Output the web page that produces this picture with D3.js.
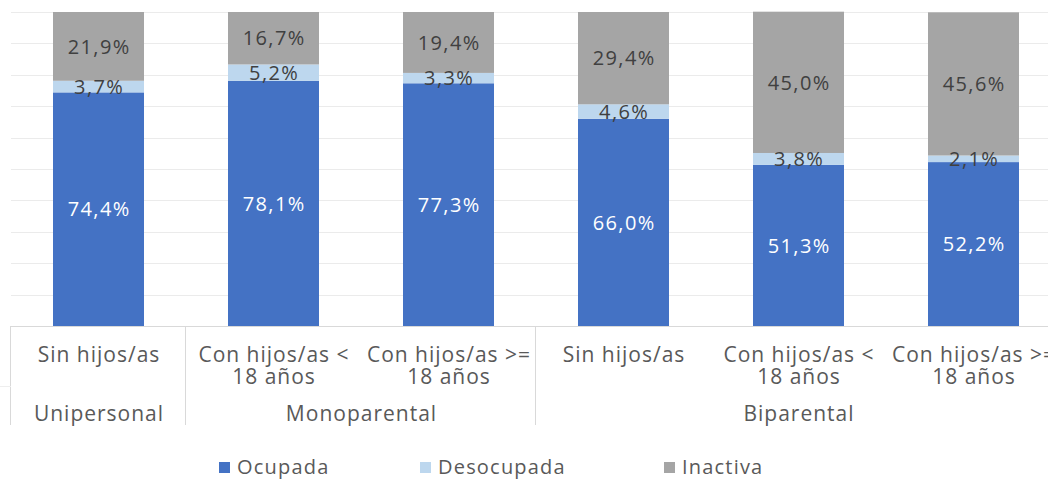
<!DOCTYPE html>
<html>
<head>
<meta charset="utf-8">
<script src="https://cdn.jsdelivr.net/npm/d3@7"></script>
<style>
  body { margin: 0; background: #fff; }
  svg { display: block; font-family: 'Open Sans', sans-serif; }
</style>
</head>
<body>
<script>
// Data
const categories = ['Sin hijos/as', 'Con hijos/as < 18 años', 'Con hijos/as >= 18 años',
  'Sin hijos/as', 'Con hijos/as < 18 años', 'Con hijos/as >= 18 años']
const categoryLines = [['Sin hijos/as'], ['Con hijos/as <', '18 años'], ['Con hijos/as >=', '18 años'],
  ['Sin hijos/as'], ['Con hijos/as <', '18 años'], ['Con hijos/as >=', '18 años']]
const groups = ['Unipersonal', 'Monoparental', 'Biparental']
const groupSizes = [1, 2, 3]
const seriesNames = ['Ocupada', 'Desocupada', 'Inactiva']
const ocupada = [74.4, 78.1, 77.3, 66.0, 51.3, 52.2]
const desocupada = [3.7, 5.2, 3.3, 4.6, 3.8, 2.1]
const inactiva = [21.9, 16.7, 19.4, 29.4, 45.0, 45.6]
const yTicks = [0, 10, 20, 30, 40, 50, 60, 70, 80, 90, 100]

const width = 1048
const height = 481
const colors = ['#4472C4', '#BDD7EE', '#A5A5A5']
const labelColors = ['#ffffff', '#404040', '#404040']
const textColor = '#595959'

// Plot area (the original is cropped on the right)
const plotLeft = 11
const band = 175
const plotTop = 12
const plotBottom = 326

const rows = categories.map((c, i) => ({
  idx: i,
  Ocupada: ocupada[i],
  Desocupada: desocupada[i],
  Inactiva: inactiva[i],
}))

const x = d3.scaleBand()
  .domain(d3.range(categories.length))
  .range([plotLeft, plotLeft + band * categories.length])
  .paddingInner(0.48)
  .paddingOuter(0.24)

const y = d3.scaleLinear().domain([0, 100]).range([plotBottom, plotTop])

const svg = d3.select('body').append('svg')
  .attr('width', width)
  .attr('height', height)

// gridlines
svg.append('g')
  .selectAll('line')
  .data(yTicks.slice(1))
  .enter()
  .append('line')
  .attr('x1', plotLeft)
  .attr('x2', width)
  .attr('y1', (d) => Math.round(y(d)) + 0.5)
  .attr('y2', (d) => Math.round(y(d)) + 0.5)
  .attr('stroke', '#ebebeb')
  .attr('stroke-width', 1)

const stacked = d3.stack().keys(seriesNames)(rows)

const layers = svg.append('g')
  .selectAll('g')
  .data(stacked)
  .enter()
  .append('g')
  .attr('fill', (d, i) => colors[i])

layers.selectAll('rect')
  .data((d) => d)
  .enter()
  .append('rect')
  .attr('x', (d) => x(d.data.idx))
  .attr('width', x.bandwidth())
  .attr('y', (d) => y(d[1]))
  .attr('height', (d) => y(d[0]) - y(d[1]))

// data labels
stacked.forEach((layer, si) => {
  svg.append('g')
    .selectAll('text')
    .data(layer)
    .enter()
    .append('text')
    .attr('x', (d) => x(d.data.idx) + x.bandwidth() / 2 + 0.7)
    .attr('y', (d) => (y(d[0]) + y(d[1])) / 2)
    .attr('dy', '0.36em')
    .attr('text-anchor', 'middle')
    .attr('font-size', 20)
    .attr('letter-spacing', 1.4)
    .attr('fill', labelColors[si])
    .text((d) => d.data[layer.key].toFixed(1).replace('.', ',') + '%')
})

// category axis
const axis = svg.append('g').attr('stroke', '#d9d9d9').attr('stroke-width', 1)
axis.append('line')
  .attr('x1', plotLeft).attr('x2', width)
  .attr('y1', plotBottom + 0.5).attr('y2', plotBottom + 0.5)

// group separators
let cum = 0
const seps = [0]
groupSizes.forEach((n) => { cum += n; seps.push(cum) })
axis.selectAll('.sep')
  .data(seps)
  .enter()
  .append('line')
  .attr('x1', (d) => Math.round(plotLeft + d * band) - 0.5)
  .attr('x2', (d) => Math.round(plotLeft + d * band) - 0.5)
  .attr('y1', plotBottom)
  .attr('y2', 425)
axis.append('line')
  .attr('stroke', '#eeeeee')
  .attr('x1', 0).attr('x2', plotLeft)
  .attr('y1', 386.5).attr('y2', 386.5)

// category labels, one text per line
const catLines = []
categoryLines.forEach((lines, i) => {
  lines.forEach((t, j) => catLines.push({ i, j, t }))
})
svg.append('g')
  .attr('font-size', 21)
  .attr('letter-spacing', 1)
  .attr('fill', textColor)
  .attr('text-anchor', 'middle')
  .selectAll('text')
  .data(catLines)
  .enter()
  .append('text')
  .attr('x', (d) => x(d.i) + x.bandwidth() / 2 + 0.5)
  .attr('y', (d) => 362 + d.j * 22)
  .text((d) => d.t)

let start = 0
const groupPos = groupSizes.map((n) => {
  const c = plotLeft + (start + n / 2) * band
  start += n
  return c
})
svg.append('g')
  .attr('font-size', 21)
  .attr('letter-spacing', 1)
  .attr('fill', textColor)
  .attr('text-anchor', 'middle')
  .selectAll('text')
  .data(groups)
  .enter()
  .append('text')
  .attr('x', (d, i) => groupPos[i] + 0.5)
  .attr('y', 421)
  .text((d) => d)

// legend
const legendX = [219, 420, 664]
const legend = svg.append('g')
  .selectAll('g')
  .data(seriesNames)
  .enter()
  .append('g')
  .attr('transform', (d, i) => `translate(${legendX[i]},462)`)
legend.append('rect')
  .attr('width', 11)
  .attr('height', 11)
  .attr('fill', (d, i) => colors[i])
legend.append('text')
  .attr('x', 18)
  .attr('y', 12)
  .attr('font-size', 20)
  .attr('letter-spacing', 1.2)
  .attr('fill', textColor)
  .text((d) => d)
</script>
</body>
</html>
